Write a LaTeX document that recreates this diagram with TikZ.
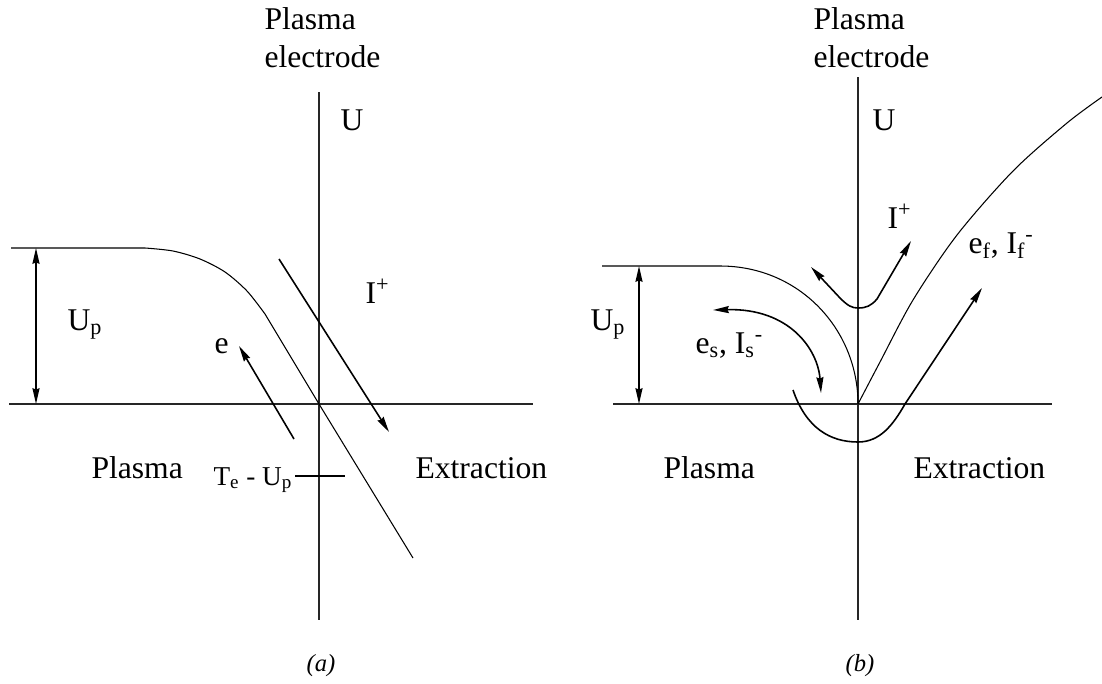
\documentclass[tikz,border=0pt]{standalone}
\usepackage{fontspec}
\setmainfont{Liberation Serif}
\usetikzlibrary{arrows.meta}

\begin{document}
\begin{tikzpicture}[x=0.02cm, y=-0.02cm, line width=0.6pt,
  axis/.style={line width=0.6pt, black!85},
  curve/.style={line width=0.6pt},
  arr/.style={line width=0.9pt, -{Stealth[length=9pt,width=4pt,inset=0.8pt]}},
  darr/.style={line width=0.9pt, {Stealth[length=9pt,width=4pt,inset=0.8pt]}-{Stealth[length=9pt,width=4pt,inset=0.8pt]}},
  lbl/.style={anchor=base west, inner sep=0pt, font=\fontsize{18}{21.5}\selectfont},
  sml/.style={anchor=base west, inner sep=0pt, font=\fontsize{15.5}{19}\selectfont},
  subcap/.style={anchor=base, inner sep=0pt, font=\fontsize{14}{17}\selectfont\itshape}]
\useasboundingbox (0,0) rectangle (1102,683);

% (a)
\coordinate (aO) at (319,404);
\coordinate (aT) at (319,92);
\coordinate (aB) at (319,620);
\coordinate (aL) at (9,404);
\coordinate (aR) at (533,404);
\draw[axis] (aT) -- (aB) (aL) -- (aR);
\coordinate (aUp) at (36,248);
\coordinate (aUo) at (36,404);
\draw[darr] (aUp) -- (aUo);
\draw[curve] (11,248) -- (145,248) plot[smooth] coordinates {(145,248) (173,251) (200,259) (225,272) (247,291) (265,314)} -- (aO) -- (413,558);
\coordinate (aIs) at (279,259);
\coordinate (aIe) at (389,432);
\draw[arr] (aIs) -- (aIe);
\coordinate (aEs) at (294,439);
\coordinate (aEe) at (239,346);
\draw[arr] (aEs) -- (aEe);
\coordinate (aTl) at (295,476);
\coordinate (aTr) at (345,476);
\draw[curve] (aTl) -- (aTr);
\node[lbl, anchor=north west, align=left] (aPE) at (264,7.5) {Plasma\\electrode};
\node[lbl] (aU) at (340,130) {U};
\node[lbl] (aUpl) at (67,330) {U\textsubscript{p}};
\node[lbl] (ae) at (214,353) {e};
\node[lbl] (aI) at (365,303) {I\textsuperscript{+}};
\node[lbl] (aPl) at (91,478) {Plasma};
\node[sml] (aTe) at (213,485) {T\textsubscript{e} - U\textsubscript{p}};
\node[lbl] (aEx) at (415,478) {Extraction};
\node[subcap] (acap) at (321,671) {(a)};

% (b)
\coordinate (bO) at (858,404);
\coordinate (bT) at (858,77);
\coordinate (bB) at (858,620);
\coordinate (bL) at (613,404);
\coordinate (bR) at (1052,404);
\draw[axis] (bT) -- (bB) (bL) -- (bR);
\coordinate (bUp) at (639,266);
\coordinate (bUo) at (639,404);
\draw[darr] (bUp) -- (bUo);
\draw[curve] (602,266) -- (720,266) .. controls (800,266) and (858,330) .. (bO);
\draw[curve] plot[smooth] coordinates {(bO) (880,362) (913,300) (957,235) (1013,171) (1067,123) (1102,97)};
\coordinate (bIl) at (811,267);
\coordinate (bIr) at (911,241);
\draw[darr] (bIl) -- (840,298) .. controls (848,306) and (852,308) .. (858,308) .. controls (866,308) and (871,306) .. (877,299) -- (bIr);
\coordinate (bSs) at (713,310);
\coordinate (bSe) at (821,393);
\draw[darr] (bSs) .. controls (790,308) and (818,350) .. (bSe);
\coordinate (bFs) at (793,390);
\coordinate (bFe) at (982,288);
\draw[arr] (bFs) .. controls (806,428) and (830,442) .. (858,442) .. controls (880,442) and (893,425) .. (905,404) -- (bFe);
\node[lbl, anchor=north west, align=left] (bPE) at (813,7.5) {Plasma\\electrode};
\node[lbl] (bU) at (872,130) {U};
\node[lbl] (bUpl) at (590,330) {U\textsubscript{p}};
\node[lbl] (bI) at (887,228) {I\textsuperscript{+}};
\node[lbl] (bes) at (695,353) {e\textsubscript{s}, I\textsubscript{s}\textsuperscript{-}};
\node[lbl] (bef) at (968,253) {e\textsubscript{f}, I\textsubscript{f}\textsuperscript{-}};
\node[lbl] (bPl) at (663,478) {Plasma};
\node[lbl] (bEx) at (913,478) {Extraction};
\node[subcap] (bcap) at (860,671) {(b)};
\end{tikzpicture}
\end{document}
